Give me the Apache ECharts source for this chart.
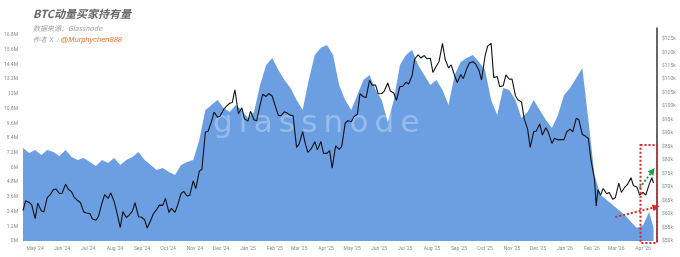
<!DOCTYPE html>
<html><head><meta charset="utf-8">
<script src="https://cdn.jsdelivr.net/npm/echarts@6/dist/echarts.min.js"></script>
<style>html,body{margin:0;padding:0;background:#fff}#c{width:680px;height:257px}</style>
</head><body><div id="c"></div>
<script>
const dates = ['2024-04-17','2024-04-24','2024-05-01','2024-05-08','2024-05-15','2024-05-22','2024-05-29','2024-06-05','2024-06-12','2024-06-19','2024-06-26','2024-07-03','2024-07-10','2024-07-17','2024-07-24','2024-07-31','2024-08-07','2024-08-14','2024-08-21','2024-08-28','2024-09-04','2024-09-11','2024-09-18','2024-09-25','2024-10-02','2024-10-09','2024-10-16','2024-10-23','2024-10-30','2024-11-06','2024-11-13','2024-11-20','2024-11-27','2024-12-04','2024-12-11','2024-12-18','2024-12-25','2025-01-01','2025-01-08','2025-01-15','2025-01-22','2025-01-29','2025-02-05','2025-02-12','2025-02-19','2025-02-26','2025-03-05','2025-03-12','2025-03-19','2025-03-26','2025-04-02','2025-04-09','2025-04-16','2025-04-23','2025-04-30','2025-05-07','2025-05-14','2025-05-21','2025-05-28','2025-06-04','2025-06-11','2025-06-18','2025-06-25','2025-07-02','2025-07-09','2025-07-16','2025-07-23','2025-07-30','2025-08-06','2025-08-13','2025-08-20','2025-08-27','2025-09-03','2025-09-10','2025-09-17','2025-09-24','2025-10-01','2025-10-08','2025-10-15','2025-10-22','2025-10-29','2025-11-05','2025-11-12','2025-11-19','2025-11-26','2025-12-03','2025-12-10','2025-12-17','2025-12-24','2025-12-31','2026-01-07','2026-01-14','2026-01-21','2026-01-28','2026-02-04','2026-02-11','2026-02-18','2026-02-25','2026-03-04','2026-03-11','2026-03-18','2026-03-25','2026-04-01','2026-04-08','2026-04-13'];
// momentum buyer holdings, millions of BTC
const holdings = [7.59,7.18,7.42,7.02,7.42,7.26,6.93,7.42,6.85,6.61,6.77,6.44,6.12,6.61,6.36,6.77,6.20,6.61,6.85,7.26,6.61,6.20,5.79,5.96,5.63,5.38,6.20,6.44,6.61,8.24,10.69,11.09,11.50,10.85,10.52,11.09,10.69,10.03,10.52,12.73,14.36,14.93,13.95,13.13,12.48,11.50,10.69,13.13,15.17,15.75,15.99,15.17,12.73,11.50,10.69,11.91,13.13,13.54,12.32,11.50,9.71,11.50,14.36,15.17,15.58,14.36,13.54,12.73,13.13,12.32,11.09,13.54,14.60,14.93,15.17,14.60,13.95,11.50,10.28,12.48,12.32,11.50,10.03,10.52,11.50,10.69,9.87,9.22,10.28,11.91,12.48,13.30,14.11,9.87,5.38,3.75,3.34,2.94,2.53,2.12,1.55,1.06,1.31,2.37,1.06];

const priceDates = ['2024-04-17','2024-04-20','2024-04-24','2024-04-27','2024-05-01','2024-05-04','2024-05-08','2024-05-11','2024-05-15','2024-05-18','2024-05-22','2024-05-25','2024-05-29','2024-06-01','2024-06-05','2024-06-08','2024-06-12','2024-06-15','2024-06-19','2024-06-22','2024-06-26','2024-06-29','2024-07-03','2024-07-06','2024-07-10','2024-07-13','2024-07-17','2024-07-20','2024-07-24','2024-07-27','2024-07-31','2024-08-03','2024-08-07','2024-08-10','2024-08-14','2024-08-17','2024-08-21','2024-08-24','2024-08-28','2024-08-31','2024-09-04','2024-09-07','2024-09-11','2024-09-14','2024-09-18','2024-09-21','2024-09-25','2024-09-28','2024-10-02','2024-10-05','2024-10-09','2024-10-12','2024-10-16','2024-10-19','2024-10-23','2024-10-26','2024-10-30','2024-11-02','2024-11-06','2024-11-09','2024-11-13','2024-11-16','2024-11-20','2024-11-23','2024-11-27','2024-11-30','2024-12-04','2024-12-07','2024-12-11','2024-12-14','2024-12-17','2024-12-21','2024-12-25','2024-12-28','2025-01-01','2025-01-04','2025-01-08','2025-01-11','2025-01-15','2025-01-18','2025-01-22','2025-01-25','2025-01-29','2025-02-01','2025-02-05','2025-02-08','2025-02-12','2025-02-15','2025-02-19','2025-02-22','2025-02-26','2025-03-01','2025-03-05','2025-03-08','2025-03-11','2025-03-15','2025-03-19','2025-03-22','2025-03-26','2025-03-29','2025-04-02','2025-04-05','2025-04-08','2025-04-12','2025-04-16','2025-04-19','2025-04-23','2025-04-26','2025-04-30','2025-05-03','2025-05-07','2025-05-10','2025-05-14','2025-05-17','2025-05-21','2025-05-24','2025-05-28','2025-05-31','2025-06-04','2025-06-07','2025-06-11','2025-06-14','2025-06-18','2025-06-21','2025-06-25','2025-06-28','2025-07-02','2025-07-05','2025-07-09','2025-07-12','2025-07-16','2025-07-19','2025-07-23','2025-07-26','2025-07-30','2025-08-02','2025-08-06','2025-08-09','2025-08-13','2025-08-16','2025-08-20','2025-08-23','2025-08-27','2025-08-30','2025-09-03','2025-09-06','2025-09-10','2025-09-13','2025-09-17','2025-09-20','2025-09-24','2025-09-27','2025-10-01','2025-10-04','2025-10-08','2025-10-11','2025-10-15','2025-10-18','2025-10-22','2025-10-25','2025-10-29','2025-11-01','2025-11-05','2025-11-08','2025-11-12','2025-11-15','2025-11-19','2025-11-22','2025-11-26','2025-11-29','2025-12-03','2025-12-06','2025-12-10','2025-12-13','2025-12-17','2025-12-20','2025-12-24','2025-12-27','2025-12-31','2026-01-03','2026-01-07','2026-01-10','2026-01-14','2026-01-17','2026-01-21','2026-01-24','2026-01-28','2026-01-31','2026-02-04','2026-02-06','2026-02-08','2026-02-11','2026-02-14','2026-02-18','2026-02-21','2026-02-25','2026-02-28','2026-03-04','2026-03-07','2026-03-11','2026-03-14','2026-03-18','2026-03-21','2026-03-25','2026-03-28','2026-04-01','2026-04-04','2026-04-08','2026-04-11','2026-04-13'];
// BTC price, USD
const price = [61300,64900,64300,63400,58300,64000,61200,60800,66200,67000,69100,69300,67600,67700,71100,69300,68200,66200,65000,64300,60800,60400,60200,58200,57700,59200,64100,67200,65800,67800,64600,60700,55000,60900,58700,59500,61200,64200,59000,58900,57900,54800,57600,60000,61700,63300,63200,65800,60600,62100,60600,63200,67600,68400,66700,67000,72300,69400,75900,76600,90400,90600,94300,97800,95900,96400,98800,99900,101100,101400,106100,97200,99400,95300,94500,98100,95000,94600,100500,104400,103600,104700,103700,100600,96600,96500,97900,97500,96600,96500,84700,86000,90600,86200,82900,84300,86800,83800,86900,82600,82500,83500,77000,85300,84000,85100,93700,94600,94200,96100,97000,104600,103500,103200,109600,107800,107800,104600,104700,105600,108600,105600,104900,102200,107300,107300,108900,108200,111300,117500,119000,117900,118800,117600,117800,112500,114900,116500,123300,117500,114200,115300,111300,108800,111700,110200,114000,116000,116500,115700,113300,109700,118600,122300,123300,110600,111000,107200,107600,111600,110000,110100,103900,102300,101600,95500,91500,84700,90500,90800,93400,89300,92000,90200,86200,88100,87500,87600,87600,90500,91500,90500,95500,95000,89500,89000,88000,80000,73000,63000,69000,67000,69500,67500,68000,65500,66000,71500,68000,70000,71000,73500,70500,70000,67000,68000,67000,71000,73500,71500];

const monthNames = ['Jan','Feb','Mar','Apr','May','Jun','Jul','Aug','Sep','Oct','Nov','Dec'];
const leftAxis = {min: 0, max: 17.37, step: 1.2};
const rightAxis = {min: 50000, max: 129000, step: 5000};
// annotation anchors (date, price)
const boxCorners = [['2026-03-29', 85600], ['2026-04-17', 49300]];
const greenArrow = [['2026-03-28', 69700], ['2026-04-12', 76000]];
const redArrow = [['2026-02-28', 58900], ['2026-04-16', 62600]];

const holdSeries = dates.map((d, i) => [d, holdings[i]]);
const priceSeries = priceDates.map((d, i) => [d, price[i]]);

const chart = echarts.init(document.getElementById('c'), null, {renderer: 'canvas'});
const tickFont = {fontSize: 5, color: '#8a8a8a', fontFamily: 'Roboto'};
chart.setOption({
  animation: false,
  backgroundColor: '#fff',
  grid: {left: 23, right: 23, top: 28, bottom: 16},
  xAxis: {
    type: 'time', min: '2024-04-17', max: '2026-04-17', splitNumber: 24,
    axisLine: {show: false}, axisTick: {show: false}, splitLine: {show: false},
    axisLabel: Object.assign({margin: 5, showMinLabel: false, showMaxLabel: false,
      formatter: v => { const d = new Date(v); return monthNames[d.getMonth()] + " '" + String(d.getFullYear()).slice(2); }}, tickFont)
  },
  yAxis: [
    {type: 'value', min: leftAxis.min, max: leftAxis.max, interval: leftAxis.step,
      axisLine: {show: false}, axisTick: {show: false}, splitLine: {show: false},
      axisLabel: Object.assign({margin: 5, showMaxLabel: false, formatter: v => (Math.round(v * 10) / 10) + 'M'}, tickFont)},
    {type: 'value', min: rightAxis.min, max: rightAxis.max, interval: rightAxis.step, position: 'right',
      axisLine: {show: true, lineStyle: {color: '#333', width: 1.5}}, axisTick: {show: false}, splitLine: {show: false},
      axisLabel: Object.assign({margin: 5, showMaxLabel: false, formatter: v => '$' + Math.round(v / 1000) + 'k'}, tickFont)}
  ],
  series: [
    {type: 'line', name: 'holdings', data: holdSeries, yAxisIndex: 0, showSymbol: false, symbol: 'none',
      lineStyle: {width: 0}, areaStyle: {color: '#6b9fe2', opacity: 1}, z: 1},
    {type: 'line', name: 'price', data: priceSeries, yAxisIndex: 1, showSymbol: false, symbol: 'none', clip: false,
      lineStyle: {color: '#111', width: 1.1}, z: 3,
      markLine: {silent: true, symbol: ['none', 'triangle'], symbolSize: 7, label: {show: false},
        data: [
          [{coord: greenArrow[0], lineStyle: {color: '#1f9d45', width: 2, type: [2, 2]}, itemStyle: {color: '#1f9d45'}},
           {coord: greenArrow[1]}],
          [{coord: redArrow[0], lineStyle: {color: '#e02424', width: 2, type: [2, 2]}, itemStyle: {color: '#e02424'}},
           {coord: redArrow[1]}]
        ]}}
  ],
  graphic: [
    {type: 'text', left: 213, top: 108, z: 2, silent: true,
      style: {text: 'g\u2009l\u2009a\u2009s\u2009s\u2009n\u2009o\u2009d\u2009e', fontSize: 31, fontFamily: 'DejaVu Sans', fill: 'rgba(255,255,255,0.3)'}},
    {type: 'text', left: 33, top: 8, style: {text: 'BTC动量买家持有量', fontSize: 11, fontWeight: 'bold', fontStyle: 'italic', fontFamily: 'Noto Sans CJK SC', fill: '#666'}},
    {type: 'text', left: 33, top: 25, style: {text: '数据来源：Glassnode', fontSize: 7, fontStyle: 'italic', fontFamily: 'Noto Sans CJK SC', fill: '#a0a0a0'}},
    {type: 'text', left: 33, top: 36, style: {
      text: '{a|作者 X：}{b|@Murphychen888}', fontFamily: 'Noto Sans CJK SC',
      rich: {a: {fontSize: 7, fontStyle: 'italic', fill: '#a0a0a0', color: '#a0a0a0'}, b: {fontSize: 7.5, fontStyle: 'italic', fill: '#f07030', color: '#f07030'}}}}
  ]
});
// dotted highlight box, positioned through the chart's own scales
const p0 = chart.convertToPixel({seriesIndex: 1}, boxCorners[0]);
const p1 = chart.convertToPixel({seriesIndex: 1}, boxCorners[1]);
chart.setOption({graphic: [{id: 'box', type: 'rect', z: 10, silent: true,
  shape: {x: Math.min(p0[0], p1[0]), y: Math.min(p0[1], p1[1]), width: Math.abs(p1[0] - p0[0]), height: Math.abs(p1[1] - p0[1])},
  style: {fill: 'none', stroke: '#e02424', lineWidth: 2, lineDash: [2, 2]}}]});
</script></body></html>
